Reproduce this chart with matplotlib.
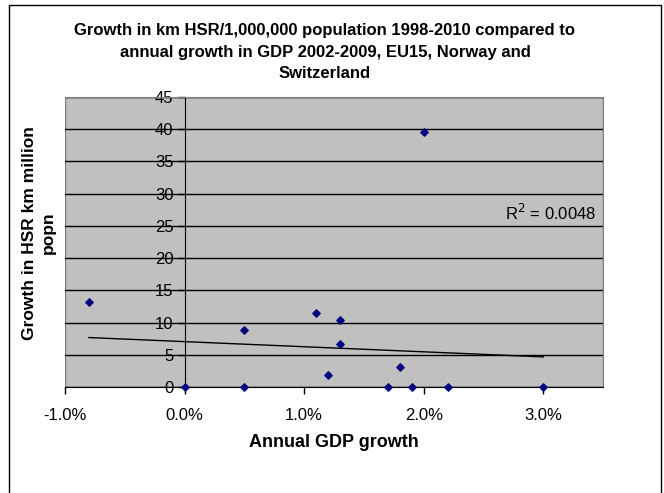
import matplotlib
matplotlib.use("Agg")
import matplotlib.pyplot as plt
import matplotlib.patches as patches
from matplotlib.ticker import FuncFormatter, MultipleLocator
import numpy as np

plt.rcParams['font.family'] = ['Liberation Sans', 'DejaVu Sans']

# annual GDP growth 2002-2009 (%) vs growth in HSR km per million population
gdp_growth = [-0.8, 0.0, 0.5, 0.5, 1.1, 1.2, 1.3, 1.3, 1.7, 1.8, 1.9, 2.0, 2.2, 3.0]
hsr_growth = [13.2, 0.0, 8.8, 0.0, 11.55, 1.8, 10.45, 6.6, 0.0, 3.1, 0.0, 39.6, 0.0, 0.0]

# linear trendline as reported by the spreadsheet
trend_intercept = 7.04
trend_slope = -0.79
r_squared = 0.0048

title = ("Growth in km HSR/1,000,000 population 1998-2010 compared to\n"
         "annual growth in GDP 2002-2009, EU15, Norway and\n"
         "Switzerland")

fig = plt.figure(figsize=(6.64, 4.93), dpi=100)
ax = fig.add_axes([65 / 664, 1 - 387 / 493, 538 / 664, 290 / 493])
ax.set_facecolor('#C0C0C0')

ax.set_xlim(-1.0, 3.5)
ax.set_ylim(0, 45)
ax.xaxis.set_major_locator(MultipleLocator(1.0))
ax.yaxis.set_major_locator(MultipleLocator(5))
ax.xaxis.set_major_formatter(FuncFormatter(lambda v, p: f"{v:.1f}%"))

ax.grid(axis='y', color='black', linewidth=1.0)
ax.set_axisbelow(True)

# y axis crosses at 0%
ax.spines['left'].set_position(('data', 0))
ax.spines['left'].set_color('black')
ax.spines['bottom'].set_color('black')
for s in ['top', 'right']:
    ax.spines[s].set_color('#808080')
ax.add_patch(patches.Rectangle((0, 0), 1, 1, transform=ax.transAxes, fill=False,
                               edgecolor='#808080', linewidth=1.0, zorder=0.5))

ax.tick_params(axis='both', direction='out', length=5, width=1, labelsize=12,
               color='black')
ax.tick_params(axis='x', pad=10)
ax.tick_params(axis='y', pad=3)

ax.scatter(gdp_growth, hsr_growth, marker='D', s=14, color='#000080', zorder=3,
           clip_on=False)

xs = np.array([min(gdp_growth), max(gdp_growth)])
ax.plot(xs, trend_intercept + trend_slope * xs, color='black', linewidth=1.0, zorder=2)

ax.text(3.44, 27.0, f"R$^2$ = {r_squared}", ha='right', va='center', fontsize=12)

ax.set_xlabel("Annual GDP growth", fontsize=13, fontweight='bold', labelpad=8)

fig.text(39 / 664, 1 - 233 / 493, "Growth in HSR km million\npopn", rotation=90,
         ha='center', va='center', fontsize=12.5, fontweight='bold',
         multialignment='center', linespacing=1.35)

fig.text(325 / 664, 1 - 52 / 493, title, ha='center', va='center', fontsize=12,
         fontweight='bold', linespacing=1.5)

# chart area frame
fig.patches.append(patches.Rectangle((9 / 664, -0.05), 652 / 664, 1.05 - 5 / 493,
                                     transform=fig.transFigure, fill=False,
                                     edgecolor='black', linewidth=1.0))

fig.savefig("out.png", dpi=100)
